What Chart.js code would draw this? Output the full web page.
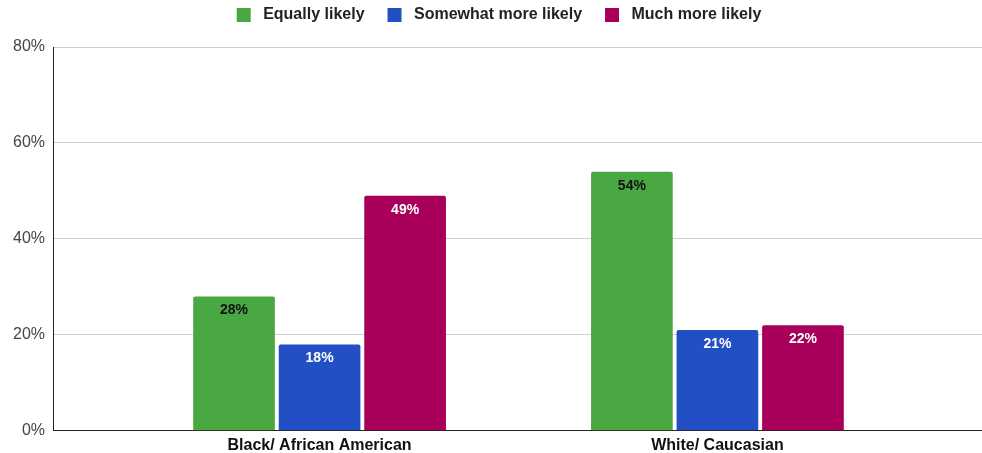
<!DOCTYPE html>
<html>
<head>
<meta charset="utf-8">
<script src="https://cdn.jsdelivr.net/npm/chart.js@4.4.0/dist/chart.umd.min.js"></script>
<style>
  html, body { margin: 0; padding: 0; background: #fff; }
  #wrap { width: 982px; height: 453px; }
</style>
</head>
<body>
<div id="wrap"><canvas id="grafico"></canvas></div>
<script>
const categorias = ["Black/ African American", "White/ Caucasian"];
const series = ["Equally likely", "Somewhat more likely", "Much more likely"];
const igual = [28, 54];
const algoMas = [18, 21];
const muchoMas = [49, 22];
const ticksY = [0, 20, 40, 60, 80];

const colores = ['#4aa843', '#234fc4', '#a8005a'];
const colorTexto = ['#111', '#fff', '#fff'];
const fuente = '"Liberation Sans", Arial, sans-serif';

// etiquetas dentro de la barra, arriba
const etiquetas = {
  id: 'etiquetas',
  afterDatasetsDraw(chart) {
    const ctx = chart.ctx;
    ctx.save();
    ctx.font = 'bold 14px ' + fuente;
    ctx.textAlign = 'center';
    ctx.textBaseline = 'top';
    chart.data.datasets.forEach((ds, i) => {
      chart.getDatasetMeta(i).data.forEach((bar, j) => {
        ctx.fillStyle = colorTexto[i];
        ctx.fillText(ds.data[j].y + '%', bar.x, bar.y + 7);
      });
    });
    ctx.restore();
  }
};

// espacio extra debajo de la leyenda y leyenda algo a la derecha
const hueco = {
  id: 'hueco',
  beforeInit(chart) {
    const leg = chart.legend;
    const fit = leg.fit;
    leg.fit = function () {
      fit.call(this);
      this.height += 14;
    };
    const draw = leg.draw;
    leg.draw = function () {
      this.ctx.save();
      this.ctx.translate(8, 0);
      draw.call(this);
      this.ctx.restore();
    };
  }
};

const toPts = arr => arr.map((v, i) => ({ x: i, y: v }));

new Chart(document.getElementById("grafico"), {
  type: 'bar',
  data: {
    datasets: [
      { label: series[0], data: toPts(igual), backgroundColor: colores[0] },
      { label: series[1], data: toPts(algoMas), backgroundColor: colores[1] },
      { label: series[2], data: toPts(muchoMas), backgroundColor: colores[2] }
    ]
  },
  options: {
    responsive: true,
    maintainAspectRatio: false,
    animation: false,
    layout: { padding: { left: 0, right: 0, top: -16, bottom: -7 } },
    datasets: {
      bar: { categoryPercentage: 0.645, barPercentage: 0.955, borderRadius: 2, borderSkipped: 'bottom' }
    },
    plugins: {
      legend: {
        position: 'top',
        labels: {
          boxWidth: 14, boxHeight: 14, padding: 23, color: '#222',
          font: { family: fuente, size: 16, weight: 'bold' },
          generateLabels: chart => Chart.defaults.plugins.legend.labels.generateLabels(chart)
            .map(it => Object.assign(it, { text: ' ' + it.text }))
        }
      },
      tooltip: { enabled: false }
    },
    scales: {
      x: {
        type: 'linear',
        bounds: 'data',
        offset: false,
        min: -0.67,
        max: 1.665,
        afterBuildTicks: s => { s.ticks = categorias.map((c, i) => ({ value: i })); },
        grid: { display: false, drawTicks: false },
        border: { color: '#222', width: 1 },
        ticks: {
          callback: v => categorias[v],
          color: '#111', padding: 5, maxRotation: 0,
          font: { family: fuente, size: 16, weight: 'bold' }
        }
      },
      y: {
        min: 0, max: 80,
        afterBuildTicks: s => { s.ticks = ticksY.map(v => ({ value: v })); },
        afterFit: s => { s.width = 53; },
        grid: { color: '#cfcfcf', drawTicks: false },
        border: { color: '#222', width: 1 },
        ticks: {
          callback: v => v + '%',
          color: '#444', padding: 8,
          font: { family: fuente, size: 16 }
        }
      }
    }
  },
  plugins: [etiquetas, hueco]
});
</script>
</body>
</html>
